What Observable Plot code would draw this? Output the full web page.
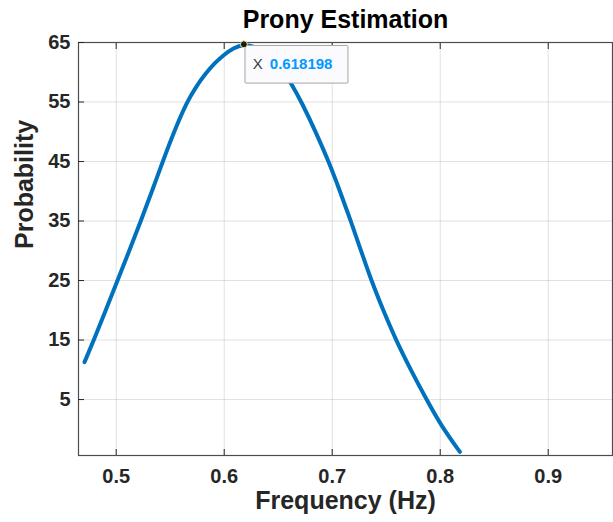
<!DOCTYPE html>
<html>
<head>
<meta charset="utf-8">
<script src="https://cdn.jsdelivr.net/npm/d3@7"></script>
<script src="https://cdn.jsdelivr.net/npm/@observablehq/plot@0.6"></script>
<style>
  html, body { margin: 0; padding: 0; background: #fff; }
  #wrap { width: 613px; height: 522px; overflow: hidden; position: relative; }
  #title { height: 36px; line-height: 38px; padding-left: 78px; text-align: center;
           font-family: "Liberation Sans", Arial, sans-serif; font-weight: bold; font-size: 25px; color: #000; }
</style>
</head>
<body>
<div id="wrap">
  <div id="title">Prony Estimation</div>
  <div id="chart"></div>
</div>
<script>
// Data
const freq = [0.4707,0.4793,0.4903,0.5012,0.5121,0.5228,0.5331,0.5431,0.5535,0.5654,0.5740,0.5824,0.5910,0.5994,0.6085,0.618198,0.6282,0.6382,0.6482,0.6552,0.6623,0.6716,0.6855,0.6969,0.7070,0.7172,0.7267,0.7362,0.7472,0.7590,0.7727,0.7873,0.8012,0.8182];
const prob = [11.3,15,20,25,30,35,40,45,50,55,57.6,59.7,61.5,62.9,64.1,64.7,64.35,63.35,61.7,60.0,58.06,55,49.7,44.9,40.1,35,30,25,20,15,10,5,0.5,-3.8];
const xTicks = [0.5, 0.6, 0.7, 0.8, 0.9];
const yTicks = [5, 15, 25, 35, 45, 55, 65];
const xDomain = [0.4651, 0.9595];
const yDomain = [-4.4, 65];
const tipX = 0.618198;
const tipY = 64.7;
const tipLabel = "0.618198";
const xLabel = "Frequency (Hz)";
const yLabel = "Probability";

const data = freq.map((f, i) => ({f, p: prob[i]}));
const tip = [{f: tipX, p: tipY}];

const boxMark = (index, scales) => {
  const px = scales.x(tipX), py = scales.y(tipY);
  const r = document.createElementNS("http://www.w3.org/2000/svg", "rect");
  r.setAttribute("x", px + 1.6);
  r.setAttribute("y", py + 1.7);
  r.setAttribute("width", 103);
  r.setAttribute("height", 37.6);
  r.setAttribute("fill", "#fafaff");
  r.setAttribute("stroke", "#a6a6a6");
  r.setAttribute("stroke-width", 1);
  r.setAttribute("rx", 1);
  return r;
};

const chart = Plot.plot({
  width: 613,
  height: 486,
  marginTop: 6,
  marginLeft: 78,
  marginRight: 1,
  marginBottom: 67,
  style: {fontFamily: "'Liberation Sans', Arial, sans-serif", fontSize: "20px", fontWeight: "bold", color: "#262626", background: "white", overflow: "visible"},
  x: {domain: xDomain},
  y: {domain: yDomain},
  marks: [
    Plot.gridX(xTicks, {stroke: "#000", strokeOpacity: 0.12}),
    Plot.gridY(yTicks, {stroke: "#000", strokeOpacity: 0.12}),
    Plot.frame({stroke: "#4d4d4d", strokeWidth: 1.2}),
    Plot.axisX(xTicks, {tickSize: 0, tickPadding: 13, label: null, fill: "#262626"}),
    Plot.axisX(xTicks, {tickSize: 6, text: null, dy: -6, label: null, stroke: "#262626"}),
    Plot.axisX(xTicks, {anchor: "top", tickSize: 6, text: null, dy: 6, label: null, stroke: "#262626"}),
    Plot.axisY(yTicks, {tickSize: 0, tickPadding: 8, label: null, fill: "#262626"}),
    Plot.axisY(yTicks, {tickSize: 6, text: null, dx: 6, label: null, stroke: "#262626"}),
    Plot.text([xLabel], {text: d => d, frameAnchor: "bottom", dy: 53, fontSize: 25, fontWeight: "bold", fill: "#262626"}),
    Plot.text([yLabel], {text: d => d, frameAnchor: "left", dx: -54, rotate: -90, fontSize: 25, fontWeight: "bold", fill: "#262626"}),
    Plot.line(data, {x: "f", y: "p", stroke: "#0072BD", strokeWidth: 4, curve: "basis"}),
    boxMark,
    Plot.text(tip, {x: "f", y: "p", text: () => "X", dx: 9, dy: 20, textAnchor: "start", fontSize: 15, fontWeight: "normal", fill: "#404040"}),
    Plot.text(tip, {x: "f", y: "p", text: () => tipLabel, dx: 26, dy: 20, textAnchor: "start", fontSize: 15, fontWeight: "bold", fill: "#0099ff"}),
    Plot.dot(tip, {x: "f", y: "p", r: 3.5, fill: "#1a1a1a", stroke: "#f2eda0", strokeWidth: 1})
  ]
});
document.getElementById("chart").appendChild(chart);
</script>
</body>
</html>
